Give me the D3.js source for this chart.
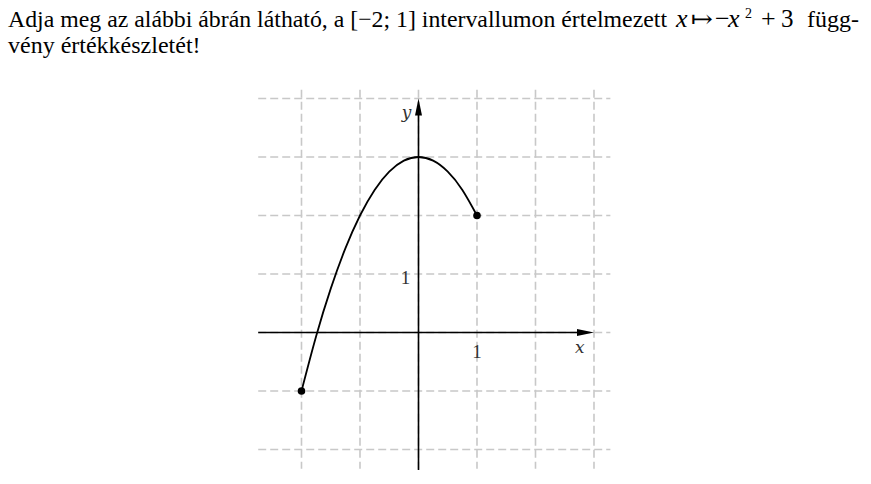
<!DOCTYPE html>
<html><head><meta charset="utf-8">
<script src="https://cdn.jsdelivr.net/npm/d3@7"></script>
<style>body{margin:0;background:#fff}svg{display:block}</style>
</head><body>
<svg id="c" width="871" height="484"></svg>
<script>
const curveX = [-2, -1.75, -1.5, -1.25, -1, -0.75, -0.5, -0.25, 0, 0.25, 0.5, 0.75, 1];
const curveY = [-1, -0.0625, 0.75, 1.4375, 2, 2.4375, 2.75, 2.9375, 3, 2.9375, 2.75, 2.4375, 2];
const endpointsX = [-2, 1];
const endpointsY = [-1, 2];
const gridX = [-2, -1, 0, 1, 2, 3];
const gridY = [-2, -1, 0, 1, 2, 3, 4];
const tickLabelsX = ["1"];
const tickLabelsY = ["1"];

const svg = d3.select("#c");
const x = d3.scaleLinear().domain([-2, 1]).range([301.5, 477]);
const y = d3.scaleLinear().domain([-1, 2]).range([391, 215.5]);

// title text
const t = svg.append("g").attr("font-family", "Liberation Serif, Times New Roman, serif").attr("font-size", 24).attr("fill", "#000");
t.append("text").attr("x", 8).attr("y", 27).attr("textLength", 659).attr("lengthAdjust", "spacingAndGlyphs")
  .text("Adja meg az alábbi ábrán látható, a [−2; 1] intervallumon értelmezett");
t.append("text").attr("x", 676).attr("y", 27).attr("font-size", 26).attr("font-style", "italic").text("x");
t.append("text").attr("x", 691).attr("y", 27).attr("font-family", "DejaVu Serif, serif").attr("font-weight", 300)
  .attr("textLength", 22).attr("lengthAdjust", "spacingAndGlyphs").text("↦");
t.append("text").attr("x", 715).attr("y", 27).attr("font-size", 26).text("−");
t.append("text").attr("x", 728).attr("y", 27).attr("font-size", 26).attr("font-style", "italic").text("x");
t.append("text").attr("x", 745).attr("y", 18).attr("font-size", 14).text("2");
t.append("text").attr("x", 761).attr("y", 27).attr("font-size", 26).text("+");
t.append("text").attr("x", 781).attr("y", 27).attr("font-size", 25).text("3");
t.append("text").attr("x", 807).attr("y", 27).text("függ-");
t.append("text").attr("x", 8).attr("y", 53).text("vény értékkészletét!");

// grid
const grid = svg.append("g").attr("stroke", "#c8c8c8").attr("stroke-width", 1.6).attr("stroke-dasharray", "8,4");
grid.selectAll("line.v").data(gridX).join("line")
  .attr("x1", d => x(d)).attr("x2", d => x(d))
  .attr("y1", y(4.15)).attr("y2", y(-2.33));
grid.selectAll("line.h").data(gridY).join("line")
  .attr("y1", d => y(d)).attr("y2", d => y(d))
  .attr("x1", x(-2.74)).attr("x2", x(3.28));

// axes
const ax = svg.append("g").attr("stroke", "#000").attr("stroke-width", 1.6);
ax.append("line").attr("x1", x(-2.74)).attr("x2", x(3) - 14).attr("y1", y(0)).attr("y2", y(0));
ax.append("line").attr("x1", x(0)).attr("x2", x(0)).attr("y1", y(-2.35)).attr("y2", y(4) + 14);
svg.append("path").attr("fill", "#000")
  .attr("d", `M${x(3)},${y(0)} L${x(3)-17},${y(0)-3.5} L${x(3)-17},${y(0)+3.5} Z`);
svg.append("path").attr("fill", "#000")
  .attr("d", `M${x(0)},${y(4)} L${x(0)-3.5},${y(4)+17} L${x(0)+3.5},${y(4)+17} Z`);

// labels
const lab = svg.append("g").attr("font-family", "DejaVu Serif, Liberation Serif, serif").attr("fill", "#333").attr("font-size", 17).attr("text-anchor", "middle");
lab.selectAll("text.xl").data(tickLabelsX).join("text").attr("x", d => x(+d)).attr("y", y(0) + 25).attr("font-family", "Liberation Serif, serif").attr("font-size", 19).text(d => d);
lab.selectAll("text.yl").data(tickLabelsY).join("text").attr("x", x(0) - 13).attr("y", d => y(+d) + 10).attr("font-family", "Liberation Serif, serif").attr("font-size", 19).text(d => d);
lab.append("text").attr("x", x(2.75) + 0.5).attr("y", y(0) + 20).attr("font-style", "italic").text("x");
lab.append("text").attr("x", x(0) - 12).attr("y", y(4) + 19).attr("font-style", "italic").text("y");

// curve
const pts = curveX.map((d, i) => [d, curveY[i]]);
svg.append("path").datum(pts).attr("fill", "none").attr("stroke", "#000").attr("stroke-width", 1.8)
  .attr("d", d3.line().x(d => x(d[0])).y(d => y(d[1])).curve(d3.curveNatural));
svg.selectAll("circle.e").data(endpointsX).join("circle")
  .attr("cx", d => x(d)).attr("cy", (d, i) => y(endpointsY[i])).attr("r", 3.8).attr("fill", "#000");
</script>
</body></html>
